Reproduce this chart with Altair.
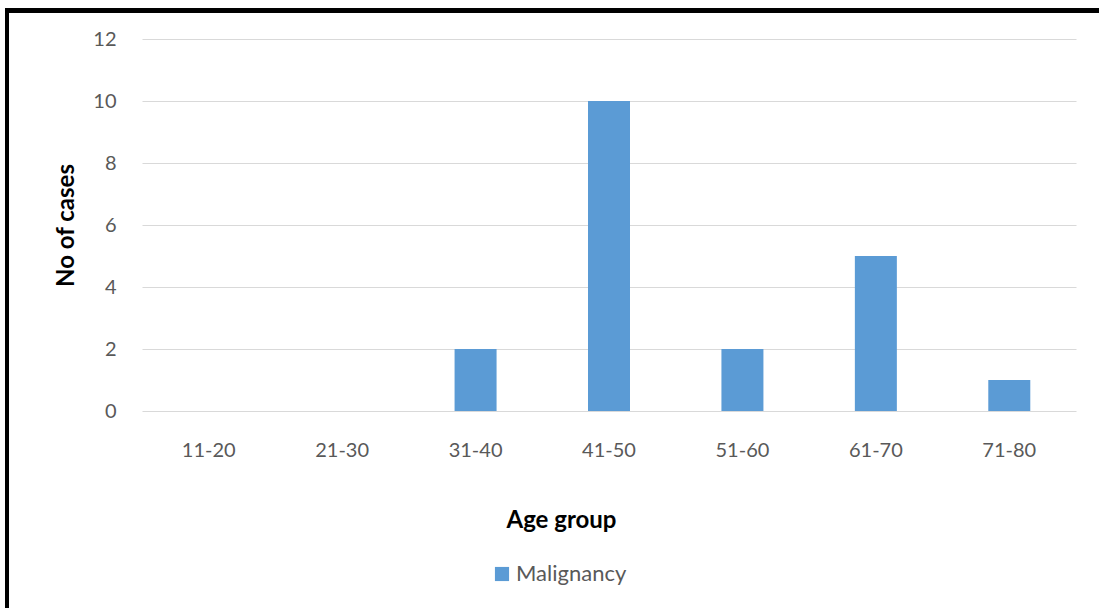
import altair as alt
import pandas as pd

age_groups = ["11-20", "21-30", "31-40", "41-50", "51-60", "61-70", "71-80"]
cases = [0, 0, 2, 10, 2, 5, 1]
series = ["Malignancy"] * len(age_groups)

df = pd.DataFrame({"Age group": age_groups, "No of cases": cases, "Series": series})

FONT = "Lato"
GRAY = "#595959"
BLUE = "#5B9BD5"

bars = alt.Chart(df).mark_bar(size=42).encode(
    x=alt.X(
        "Age group:N",
        sort=age_groups,
        scale=alt.Scale(paddingInner=0.0, paddingOuter=0.0),
        axis=alt.Axis(
            title="Age group",
            labelAngle=0,
            labelFont=FONT,
            labelFontSize=20,
            labelColor=GRAY,
            labelPadding=29,
            ticks=False,
            domain=False,
            titleFont=FONT,
            titleFontSize=24,
            titleFontWeight="bold",
            titleColor="#000000",
            titleX=419,
            titleY=109,
            titleAlign="center",
            titleBaseline="middle",
        ),
    ),
    y=alt.Y(
        "No of cases:Q",
        scale=alt.Scale(domain=[0, 12], nice=False),
        axis=alt.Axis(
            title="No of cases",
            values=[0, 2, 4, 6, 8, 10, 12],
            labelFont=FONT,
            labelFontSize=20,
            labelColor=GRAY,
            labelPadding=26,
            ticks=False,
            domain=False,
            gridColor="#D9D9D9",
            gridWidth=1.2,
            titleFont=FONT,
            titleFontSize=24,
            titleFontWeight="bold",
            titleColor="#000000",
            titleAngle=270,
            titleX=-76,
            titleY=186,
            titleAlign="center",
            titleBaseline="middle",
        ),
    ),
    color=alt.Color(
        "Series:N",
        scale=alt.Scale(range=[BLUE]),
        legend=alt.Legend(
            title=None,
            orient="none",
            legendX=349,
            legendY=524,
            symbolType="square",
            symbolSize=200,
            symbolStrokeWidth=0,
            labelFont=FONT,
            labelFontSize=22,
            labelColor=GRAY,
            labelOffset=3,
        ),
    ),
)

# frame lines along the left and top edges of the figure
left_edge = alt.Chart(df).mark_rule(color="#000000", strokeWidth=4, clip=False).encode(
    x=alt.value(-135), y=alt.value(-30), y2=alt.value(580)
)
top_edge = alt.Chart(df).mark_rule(color="#000000", strokeWidth=4, clip=False).encode(
    x=alt.value(-137), x2=alt.value(970), y=alt.value(-28.5)
)

chart = (
    alt.layer(bars, left_edge, top_edge)
    .properties(
        width=934,
        height=372,
        autosize=alt.AutoSizeParams(type="none"),
        padding={"left": 142, "top": 39, "right": 23, "bottom": 197},
        background="#FFFFFF",
    )
    .configure_view(stroke=None)
)

chart.save("out.html", embed_options={"renderer": "svg", "actions": False})
